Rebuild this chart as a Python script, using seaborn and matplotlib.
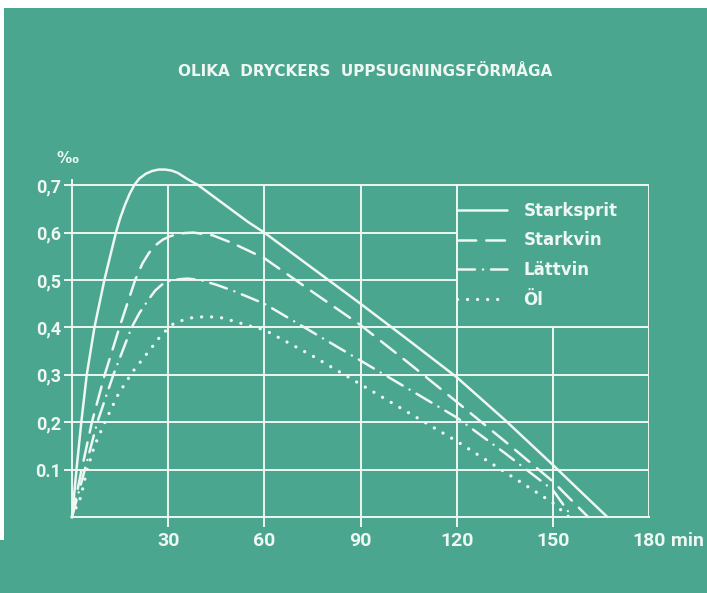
import pandas as pd
import seaborn as sns
import matplotlib.pyplot as plt
from matplotlib.patches import Rectangle

sns.set_style('white')
plt.rcParams['font.family'] = ['Roboto', 'DejaVu Sans']

# Values: minutes after drinking, blood alcohol in promille
starksprit_t = [0, 1.4, 2.9, 4.6, 7, 10.1, 13.7, 15, 16.5, 18, 19.5, 21, 23, 25, 27, 29, 31, 33, 36, 39.4,
                45, 50, 55, 60, 75, 90, 105, 120, 135, 150, 158, 167]
starksprit_v = [0, 0.1, 0.2, 0.3, 0.4, 0.5, 0.6, 0.63, 0.658, 0.682, 0.701, 0.714, 0.724, 0.73, 0.733, 0.733,
                0.731, 0.726, 0.713, 0.7, 0.672, 0.647, 0.622, 0.6, 0.525, 0.45, 0.373, 0.295, 0.205, 0.11,
                0.058, 0]

starkvin_t = [0, 1.5, 3, 6.2, 10.2, 14.8, 19.7, 22, 24, 26, 28.3, 30.5, 33, 35, 38, 44, 50, 55, 60,
              75, 90, 105, 120, 135, 150, 161]
starkvin_v = [0, 0.05, 0.1, 0.2, 0.3, 0.4, 0.5, 0.535, 0.557, 0.573, 0.585, 0.592, 0.597, 0.599, 0.6,
              0.594, 0.578, 0.562, 0.546, 0.475, 0.405, 0.325, 0.243, 0.16, 0.075, 0]

lattvin_t = [0, 2, 4, 7.9, 12.9, 18.6, 21, 24, 26, 28, 31, 36, 40, 45, 50, 55, 60,
             75, 90, 105, 120, 135, 150, 156]
lattvin_v = [0, 0.05, 0.1, 0.2, 0.3, 0.4, 0.43, 0.46, 0.478, 0.49, 0.5, 0.503, 0.5, 0.49, 0.478, 0.464, 0.45,
             0.39, 0.33, 0.27, 0.21, 0.135, 0.057, 0]

ol_t = [0, 2.8, 4.4, 7, 10.6, 14.5, 19, 24, 28, 32, 37, 42, 47, 52, 56, 60,
        75, 90, 105, 120, 135, 150, 155]
ol_v = [0, 0.043, 0.092, 0.15, 0.205, 0.26, 0.307, 0.35, 0.385, 0.41, 0.42, 0.423, 0.42, 0.41, 0.402, 0.395,
        0.34, 0.28, 0.22, 0.16, 0.095, 0.03, 0]

labels = ['Starksprit', 'Starkvin', 'Lättvin', 'Öl']
x_ticks = [30, 60, 90, 120, 150, 180]
x_ticklabels = ['30', '60', '90', '120', '150', '180']
y_ticks = [0.1, 0.2, 0.3, 0.4, 0.5, 0.6, 0.7]
y_ticklabels = ['0.1', '0,2', '0,3', '0,4', '0,5', '0,6', '0,7']

series = [(starksprit_t, starksprit_v), (starkvin_t, starkvin_v),
          (lattvin_t, lattvin_v), (ol_t, ol_v)]
styles = ['-', (0, (7.5, 4)), (0, (7, 3.2, 0.01, 3.2)), (0, (0.01, 3))]
widths = [1.8, 1.8, 1.8, 2.4]

bg = '#4aa68f'
fg = '#eef7f2'
grid_lw = 1.4

fig = plt.figure(figsize=(7.07, 5.93), dpi=100, facecolor=bg)
# scan edges
fig.patches.append(Rectangle((0, 1 - 8 / 593), 1, 8 / 593, transform=fig.transFigure,
                             facecolor='white', edgecolor='none'))
fig.patches.append(Rectangle((0, 53 / 593), 4 / 707, 1 - 53 / 593, transform=fig.transFigure,
                             facecolor='white', edgecolor='none'))

ax = fig.add_axes([72 / 707, 76 / 593, 577 / 707, 0.745 * 474 / 593])
ax.set_facecolor(bg)
ax.set_xlim(0, 180)
ax.set_ylim(0, 0.745)

# grid drawn by hand so it stops at 0,7
ax.hlines(y_ticks, 0, 180, color=fg, lw=grid_lw, zorder=1)
ax.vlines(x_ticks, 0, 0.7, color=fg, lw=grid_lw, zorder=1)

# legend box sits on top of the grid
ax.add_patch(Rectangle((120, 0.4), 60, 0.3, facecolor=bg, edgecolor=fg, lw=grid_lw, zorder=1.5))

for (t, v), name, ls, w in zip(series, labels, styles, widths):
    df = pd.DataFrame({'min': t, 'promille': v})
    sns.lineplot(data=df, x='min', y='promille', ax=ax, color=fg, linewidth=w,
                 linestyle=ls, dash_capstyle='round', solid_capstyle='round',
                 estimator=None, sort=False, label=name, zorder=3, clip_on=False)

for side in ['top', 'right']:
    ax.spines[side].set_visible(False)
for side in ['left', 'bottom']:
    ax.spines[side].set_color(fg)
    ax.spines[side].set_linewidth(grid_lw)
ax.spines['left'].set_bounds(0, 0.712)

ax.set_xticks(x_ticks)
ax.set_xticklabels(x_ticklabels, fontsize=14, color=fg, fontweight='bold')
ax.set_yticks(y_ticks)
ax.set_yticklabels(y_ticklabels, fontsize=13, color=fg, fontweight='bold')
ax.tick_params(axis='x', length=7, width=grid_lw, color=fg, pad=4, direction='out', bottom=True)
ax.tick_params(axis='y', length=6, width=grid_lw, color=fg, pad=2, direction='out', left=True)
ax.xaxis.get_major_ticks()[-1].tick1line.set_visible(False)
ax.set_xlabel('')
ax.set_ylabel('')

ax.annotate('min', xy=(180, 0), xycoords='data', xytext=(16, -11), textcoords='offset points',
            ha='left', va='top', fontsize=14, color=fg, fontweight='bold')
ax.text(-1.3, 0.757, '‰', ha='center', va='center', fontsize=11, color=fg,
        fontweight='bold', family='DejaVu Sans', clip_on=False)

leg = ax.legend(loc='upper left', bbox_to_anchor=(120, 0.665), bbox_transform=ax.transData,
                frameon=False, borderpad=0, borderaxespad=0, handlelength=3.0,
                handletextpad=1.0, labelspacing=0.7,
                prop={'family': 'DejaVu Sans', 'weight': 'bold', 'size': 12})
for text in leg.get_texts():
    text.set_color(fg)

fig.text(0.516, 0.879, 'OLIKA  DRYCKERS  UPPSUGNINGSFÖRMÅGA', ha='center', va='center',
         fontsize=11, color=fg, fontweight='bold', family='DejaVu Sans')

fig.savefig('out.png', dpi=100, facecolor=bg)
